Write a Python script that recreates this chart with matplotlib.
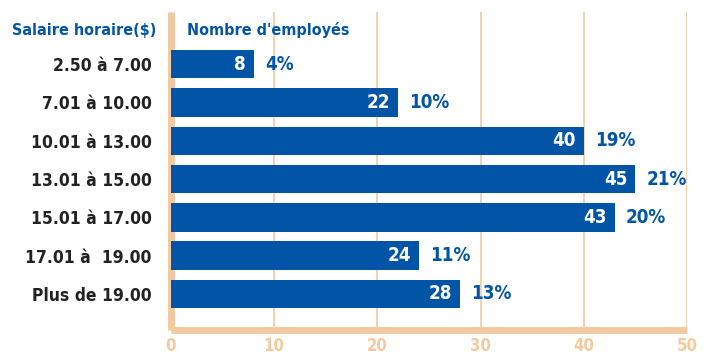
import matplotlib.pyplot as plt

# Répartition des employés par tranche de salaire horaire
tranches = ["2.50 à 7.00", "7.01 à 10.00", "10.01 à 13.00", "13.01 à 15.00",
            "15.01 à 17.00", "17.01 à  19.00", "Plus de 19.00"]
employes = [8, 22, 40, 45, 43, 24, 28]
pourcentages = ["4%", "10%", "19%", "21%", "20%", "11%", "13%"]
graduations = [0, 10, 20, 30, 40, 50]

bleu = "#0254a6"
peche = "#f3c9a0"
police = dict(family="DejaVu Sans", fontstretch="condensed", fontweight="bold")

fig = plt.figure(figsize=(7.05, 3.58), dpi=100)
ax = fig.add_axes([171 / 705, 1 - 330 / 358, 516 / 705, 318 / 358])

pos = list(range(len(tranches)))
ax.barh(pos, employes, height=0.74, color=bleu, zorder=3)

for y, v, p in zip(pos, employes, pourcentages):
    ax.text(v - 0.75, y, str(v), color="white", ha="right", va="center",
            fontsize=13.5, zorder=4, **police)
    ax.text(v + 1.1, y, p, color=bleu, ha="left", va="center",
            fontsize=13.5, zorder=4, **police)

ax.set_xlim(0, 50)
ax.set_ylim(6.94, -1.36)
ax.set_xticks(graduations)
ax.set_xticklabels([str(g) for g in graduations], color=peche, fontsize=12, **police)
ax.set_yticks(pos)
ax.set_yticklabels(tranches, color="#222222", fontsize=12.5, **police)
ax.tick_params(axis="both", length=0, pad=5)
ax.tick_params(axis="y", pad=14)
ax.xaxis.grid(True, color=peche, linewidth=1.2, zorder=0)

for s in ["top", "right"]:
    ax.spines[s].set_visible(False)
for s in ["left", "bottom"]:
    ax.spines[s].set_color(peche)
    ax.spines[s].set_linewidth(5)
    ax.spines[s].set_capstyle("butt")

fig.text(12 / 705, 1 - 30 / 358, "Salaire horaire($)", color=bleu, fontsize=11.5,
         ha="left", va="center", **police)
fig.text(187 / 705, 1 - 30 / 358, "Nombre d'employés", color=bleu, fontsize=11.5,
         ha="left", va="center", **police)

fig.savefig("out.png", dpi=100)
